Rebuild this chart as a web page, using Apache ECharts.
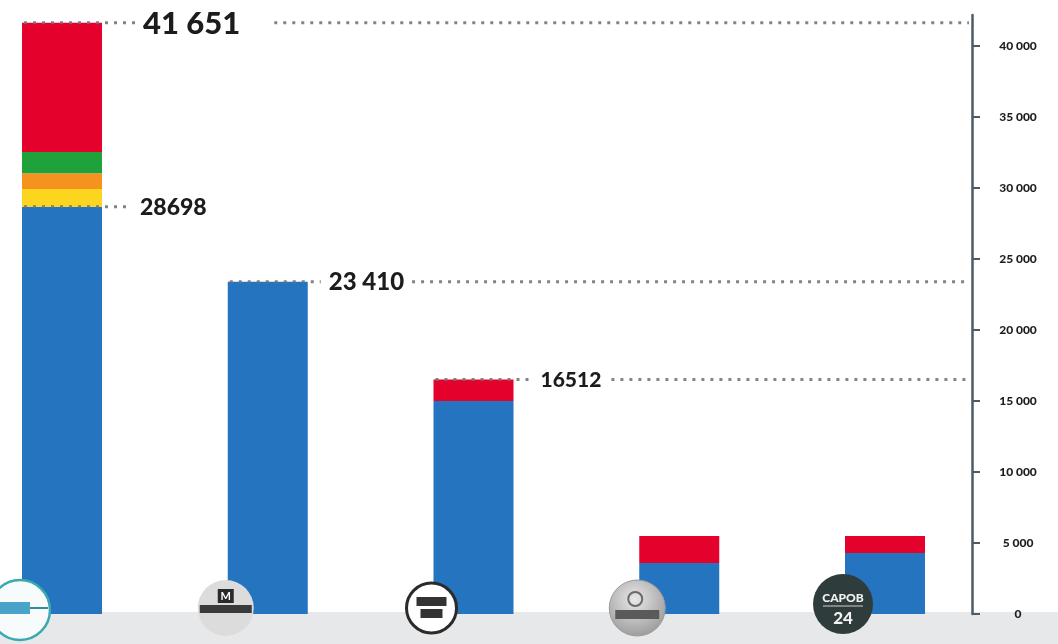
<!DOCTYPE html>
<html>
<head>
<meta charset="utf-8">
<script src="https://cdn.jsdelivr.net/npm/echarts@6/dist/echarts.min.js"></script>
<style>
  html, body { margin: 0; padding: 0; background: #ffffff; }
  #chart { width: 1058px; height: 644px; }
</style>
</head>
<body>
<div id="chart"></div>
<script>
// ---------- DATA ----------
const categories = ['Média 1', 'Média 2', 'Média 3', 'Média 4', 'Capob 24'];
const blueValues   = [28698, 23410, 15000, 3600, 4300];
const yellowValues = [1250, 0, 0, 0, 0];
const orangeValues = [1100, 0, 0, 0, 0];
const greenValues  = [1500, 0, 0, 0, 0];
const redValues    = [9103, 0, 1512, 1900, 1200];
const yTickValues  = [0, 5000, 10000, 15000, 20000, 25000, 30000, 35000, 40000];
const calloutValues     = [41651, 28698, 23410, 16512];
const calloutCategories = [0, 0, 1, 2];
const calloutLabels     = ['41 651', '28698', '23 410', '16512'];
const logoTexts = ['', 'M', '', '', 'CAPOB', '24'];

// ---------- STYLES ----------
const COLORS = { blue: '#2474bf', yellow: '#fcd51e', orange: '#f6931f', green: '#1fa23b', red: '#e4012c' };
const BAR_W = 80;
const AXIS_OFFSET = 87;
const FONT_FAMILY = 'Lato, "Open Sans", sans-serif';
const calloutStyle = [
  { size: 31, lead: 41, gapAfter: 34, rightLine: true },
  { size: 23, lead: 38, gapAfter: 0, rightLine: false },
  { size: 24, lead: 21, gapAfter: 8, rightLine: true },
  { size: 21, lead: 27, gapAfter: 10, rightLine: true }
];
const DOT_STYLE = { stroke: 'rgba(110,110,110,0.85)', lineWidth: 3, lineDash: [3, 6] };

const measureCtx = document.createElement('canvas').getContext('2d');
function textWidth(txt, size) {
  measureCtx.font = '900 ' + size + 'px ' + FONT_FAMILY;
  return measureCtx.measureText(txt).width;
}
function fmt(v) { return String(v).replace(/\B(?=(\d{3})+(?!\d))/g, ' '); }

function stackSeries(name, values, color) {
  return {
    name: name, type: 'bar', stack: 'total', barWidth: BAR_W, clip: false,
    data: values, itemStyle: { color: color }, z: 2,
    emphasis: { disabled: true }
  };
}

const chart = echarts.init(document.getElementById('chart'));

const option = {
  animation: false,
  backgroundColor: '#ffffff',
  grid: { left: 62, right: 173, top: 15, bottom: 30, containLabel: false },
  xAxis: {
    type: 'category', data: categories, boundaryGap: false,
    axisLine: { show: false }, axisTick: { show: false }, axisLabel: { show: false }, splitLine: { show: false }
  },
  yAxis: {
    type: 'value', position: 'right', offset: AXIS_OFFSET,
    min: 0, max: 42200,
    axisLine: { show: true, lineStyle: { color: '#4b5c68', width: 2.5 } },
    axisTick: { show: true, length: 8, customValues: yTickValues, lineStyle: { color: '#4b5c68', width: 2 } },
    axisLabel: {
      show: true, customValues: yTickValues, align: 'center', margin: 46,
      formatter: function (v) { return fmt(v); },
      color: '#1e1e1e', fontSize: 12, fontWeight: 900, fontFamily: FONT_FAMILY
    },
    splitLine: { show: false }
  },
  graphic: [
    { type: 'rect', shape: { x: 0, y: 612, width: 1058, height: 32 }, style: { fill: '#e7e8e9' }, z: 0, silent: true }
  ],
  series: [
    stackSeries('Blue', blueValues, COLORS.blue),
    stackSeries('Yellow', yellowValues, COLORS.yellow),
    stackSeries('Orange', orangeValues, COLORS.orange),
    stackSeries('Green', greenValues, COLORS.green),
    stackSeries('Red', redValues, COLORS.red),
    {
      type: 'custom', name: 'callouts', z: 5, silent: true, clip: false,
      data: calloutValues.map(function (v, i) { return [calloutCategories[i], v, i]; }),
      renderItem: function (params, api) {
        const i = api.value(2);
        const st = calloutStyle[i];
        const pt = api.coord([api.value(0), api.value(1)]);
        const cs = params.coordSys;
        const axisX = cs.x + cs.width + AXIS_OFFSET;
        const barLeft = pt[0] - BAR_W / 2;
        const barRight = pt[0] + BAR_W / 2;
        const tx = barRight + st.lead;
        const label = calloutLabels[i];
        const tw = textWidth(label, st.size);
        const children = [
          { type: 'line', shape: { x1: barLeft + 2, y1: pt[1], x2: tx - 8, y2: pt[1] }, style: DOT_STYLE },
          { type: 'text', style: { text: label, x: tx, y: pt[1] + 1, fill: '#1c1c1c',
              font: '900 ' + st.size + 'px ' + FONT_FAMILY, textAlign: 'left', verticalAlign: 'middle', textVerticalAlign: 'middle' } }
        ];
        if (st.rightLine) {
          children.push({ type: 'line', shape: { x1: tx + tw + st.gapAfter, y1: pt[1], x2: axisX - 3, y2: pt[1] }, style: DOT_STYLE });
        }
        return { type: 'group', children: children };
      }
    },
    {
      type: 'custom', name: 'logos', z: 6, silent: true, clip: false,
      data: categories.map(function (c, i) { return [i, 0]; }),
      renderItem: function (params, api) {
        const i = api.value(0);
        const p = api.coord([i, 0]);
        const cx = p[0] - 42, cy = p[1] - 6, r = 28;
        const kids = [];
        if (i === 0) {
          kids.push({ type: 'circle', shape: { cx: cx, cy: cy + 2, r: 30 }, style: { fill: '#f7fbfb', stroke: '#39a9ae', lineWidth: 2.5 } });
          kids.push({ type: 'rect', shape: { x: cx - 28, y: cy - 6, width: 38, height: 12 }, style: { fill: '#4aa3c9' } });
          kids.push({ type: 'line', shape: { x1: cx + 10, y1: cy, x2: cx + 28, y2: cy }, style: { stroke: '#2f8f9a', lineWidth: 2 } });
        } else if (i === 1) {
          kids.push({ type: 'circle', shape: { cx: cx, cy: cy, r: r }, style: { fill: '#dcdcdc' } });
          kids.push({ type: 'rect', shape: { x: cx - 8, y: cy - 19, width: 16, height: 14 }, style: { fill: '#2a2a2a' } });
          kids.push({ type: 'text', style: { text: logoTexts[1], x: cx, y: cy - 12, fill: '#ffffff', font: 'bold 11px ' + FONT_FAMILY, textAlign: 'center', verticalAlign: 'middle' } });
          kids.push({ type: 'rect', shape: { x: cx - 26, y: cy - 3, width: 52, height: 8 }, style: { fill: '#3a3a3a' } });
        } else if (i === 2) {
          kids.push({ type: 'circle', shape: { cx: cx, cy: cy, r: 25 }, style: { fill: '#ffffff', stroke: '#2b2b2b', lineWidth: 3 } });
          kids.push({ type: 'rect', shape: { x: cx - 15, y: cy - 11, width: 30, height: 9 }, style: { fill: '#333333' } });
          kids.push({ type: 'rect', shape: { x: cx - 11, y: cy + 1, width: 22, height: 9 }, style: { fill: '#333333' } });
        } else if (i === 3) {
          kids.push({ type: 'circle', shape: { cx: cx, cy: cy, r: r }, style: {
            fill: new echarts.graphic.RadialGradient(0.45, 0.35, 0.8, [{ offset: 0, color: '#e8e8e8' }, { offset: 1, color: '#8c8c8c' }]),
            stroke: '#9a9a9a', lineWidth: 1 } });
          kids.push({ type: 'rect', shape: { x: cx - 22, y: cy + 2, width: 44, height: 9 }, style: { fill: '#5a5a5a' } });
          kids.push({ type: 'circle', shape: { cx: cx - 2, cy: cy - 9, r: 7 }, style: { fill: 'none', stroke: '#6a6a6a', lineWidth: 2 } });
        } else {
          kids.push({ type: 'circle', shape: { cx: cx, cy: cy - 4, r: 30 }, style: { fill: '#2e3c3b' } });
          kids.push({ type: 'text', style: { text: logoTexts[4], x: cx, y: cy - 10, fill: '#f2f2f2', font: '900 12px ' + FONT_FAMILY, textAlign: 'center', verticalAlign: 'middle' } });
          kids.push({ type: 'line', shape: { x1: cx - 20, y1: cy - 2, x2: cx + 20, y2: cy - 2 }, style: { stroke: '#cfcfcf', lineWidth: 1 } });
          kids.push({ type: 'text', style: { text: logoTexts[5], x: cx, y: cy + 11, fill: '#f2f2f2', font: '900 17px ' + FONT_FAMILY, textAlign: 'center', verticalAlign: 'middle' } });
        }
        return { type: 'group', children: kids };
      }
    }
  ]
};
chart.setOption(option);
</script>
</body>
</html>
